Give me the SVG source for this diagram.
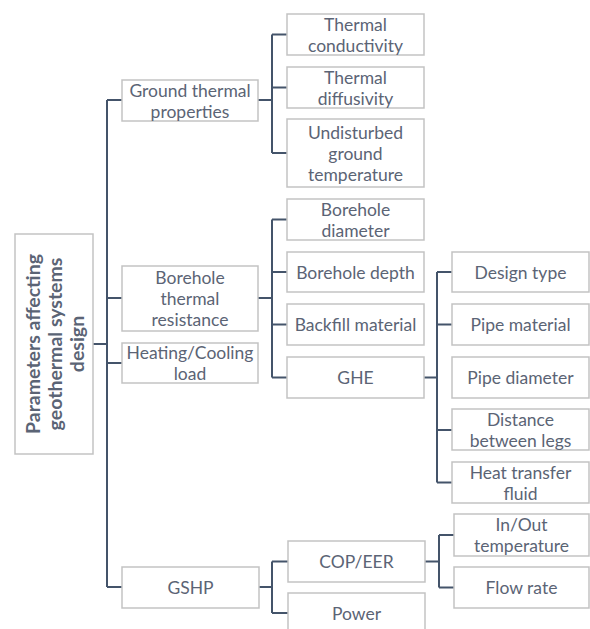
<svg xmlns="http://www.w3.org/2000/svg" width="590" height="629" viewBox="0 0 590 629">
<style>
.box{fill:#fff;stroke:#c3c3c3;stroke-width:1.5}
.t{font-family:Lato,"Open Sans",sans-serif;font-size:17.5px;fill:#5b6475;text-anchor:middle;dominant-baseline:central}
.rt{font-family:Lato,"Open Sans",sans-serif;font-size:19.5px;font-weight:bold;fill:#5b6475;text-anchor:middle;dominant-baseline:central}
.c{fill:none;stroke:#44546a;stroke-width:2}
</style>
<rect width="590" height="629" fill="#fff"/>
<g id="connectors">
<path class="c" d="M93 344H107M107 100V587M107 100H122M107 298H122M107 363H122M107 587H122"/>
<path class="c" d="M258 100H272M272 34.5V153M272 34.5H287M272 87.5H287M272 153H287"/>
<path class="c" d="M258 298H272M272 219.5V377.5M272 219.5H287M272 272H287M272 324.5H287M272 377.5H287"/>
<path class="c" d="M424 377.5H437M437 272V482.5M437 272H452M437 324.5H452M437 430H452M437 482.5H452"/>
<path class="c" d="M259 587H272M272 561.5V613M272 561.5H288M272 613H288"/>
<path class="c" d="M425 561.5H439M439 535V587.5M439 535H454M439 587.5H454"/>
</g>
<g id="root"><rect class="box" x="15" y="234" width="78" height="220"/>
<text class="rt" transform="translate(54,344) rotate(-90)"><tspan x="0" y="-22">Parameters affecting</tspan><tspan x="0" y="0">geothermal systems</tspan><tspan x="0" y="22">design</tspan></text></g>
<g id="ground"><rect class="box" x="122" y="80" width="136" height="41"/><text class="t" x="190" y="90">Ground thermal</text><text class="t" x="190" y="111">properties</text></g>
<g id="borehole-res"><rect class="box" x="122" y="266" width="136" height="65"/><text class="t" x="190" y="277">Borehole</text><text class="t" x="190" y="298">thermal</text><text class="t" x="190" y="319">resistance</text></g>
<g id="load"><rect class="box" x="122" y="343" width="136" height="40"/><text class="t" x="190" y="352.5">Heating/Cooling</text><text class="t" x="190" y="373.5">load</text></g>
<g id="gshp"><rect class="box" x="122" y="567" width="137" height="41"/><text class="t" x="190.5" y="587">GSHP</text></g>
<g id="conductivity"><rect class="box" x="287" y="14" width="137" height="41"/><text class="t" x="355.5" y="24">Thermal</text><text class="t" x="355.5" y="45">conductivity</text></g>
<g id="diffusivity"><rect class="box" x="287" y="67" width="137" height="41"/><text class="t" x="355.5" y="77">Thermal</text><text class="t" x="355.5" y="98">diffusivity</text></g>
<g id="undisturbed"><rect class="box" x="287" y="119" width="137" height="68"/><text class="t" x="355.5" y="132">Undisturbed</text><text class="t" x="355.5" y="153">ground</text><text class="t" x="355.5" y="174">temperature</text></g>
<g id="bh-diameter"><rect class="box" x="287" y="199" width="137" height="41"/><text class="t" x="355.5" y="209">Borehole</text><text class="t" x="355.5" y="230">diameter</text></g>
<g id="bh-depth"><rect class="box" x="287" y="252" width="137" height="40"/><text class="t" x="355.5" y="272">Borehole depth</text></g>
<g id="backfill"><rect class="box" x="287" y="304" width="137" height="41"/><text class="t" x="355.5" y="324.5">Backfill material</text></g>
<g id="ghe"><rect class="box" x="287" y="357" width="137" height="41"/><text class="t" x="355.5" y="377.5">GHE</text></g>
<g id="design-type"><rect class="box" x="452" y="252" width="137" height="40"/><text class="t" x="520.5" y="272">Design type</text></g>
<g id="pipe-material"><rect class="box" x="452" y="304" width="137" height="41"/><text class="t" x="520.5" y="324.5">Pipe material</text></g>
<g id="pipe-diameter"><rect class="box" x="452" y="357" width="137" height="41"/><text class="t" x="520.5" y="377.5">Pipe diameter</text></g>
<g id="distance"><rect class="box" x="452" y="409" width="137" height="41"/><text class="t" x="520.5" y="419">Distance</text><text class="t" x="520.5" y="440">between legs</text></g>
<g id="fluid"><rect class="box" x="452" y="462" width="137" height="41"/><text class="t" x="520.5" y="472">Heat transfer</text><text class="t" x="520.5" y="493">fluid</text></g>
<g id="cop"><rect class="box" x="288" y="541" width="137" height="41"/><text class="t" x="356.5" y="561.5">COP/EER</text></g>
<g id="power"><rect class="box" x="288" y="593" width="137" height="45"/><text class="t" x="356.5" y="613">Power</text></g>
<g id="inout"><rect class="box" x="454" y="514" width="135" height="42"/><text class="t" x="521.5" y="524.5">In/Out</text><text class="t" x="521.5" y="545.5">temperature</text></g>
<g id="flow"><rect class="box" x="454" y="567" width="135" height="41"/><text class="t" x="521.5" y="587.5">Flow rate</text></g>
</svg>
